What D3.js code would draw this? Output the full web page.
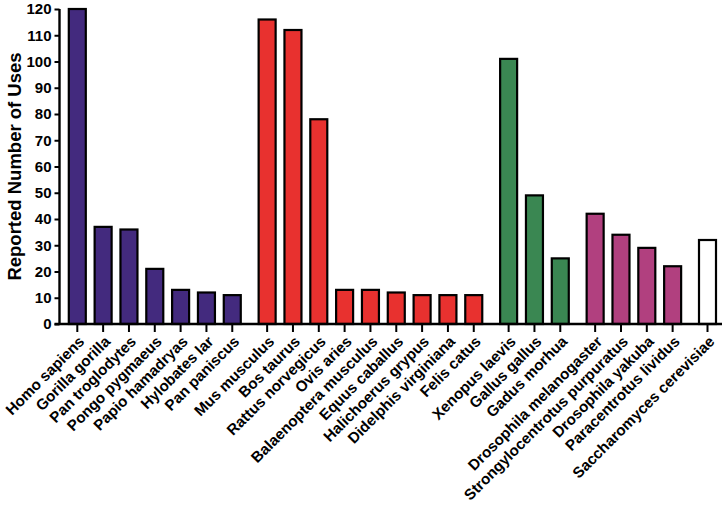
<!DOCTYPE html>
<html><head><meta charset="utf-8">
<script src="https://cdn.jsdelivr.net/npm/d3@7/dist/d3.min.js"></script>
<style>body{margin:0;background:#fff}svg{display:block}text{font-family:"Liberation Sans",Arial,sans-serif;font-weight:bold}</style>
</head><body><svg id="c" width="724" height="507"></svg>
<script>
const species = ["Homo sapiens","Gorilla gorilla","Pan troglodytes","Pongo pygmaeus","Papio hamadryas","Hylobates lar","Pan paniscus",
"Mus musculus","Bos taurus","Rattus norvegicus","Ovis aries","Balaenoptera musculus","Equus caballus","Halichoerus grypus","Didelphis virginiana","Felis catus",
"Xenopus laevis","Gallus gallus","Gadus morhua",
"Drosophila melanogaster","Strongylocentrotus purpuratus","Drosophila yakuba","Paracentrotus lividus",
"Saccharomyces cerevisiae"];
const uses = [120,37,36,21,13,12,11, 116,112,78,13,13,12,11,11,11, 101,49,25, 42,34,29,22, 32];
const groupOf = [0,0,0,0,0,0,0, 1,1,1,1,1,1,1,1,1, 2,2,2, 3,3,3,3, 4];
const groupColors = ["#432a7e","#e8312f","#3a8752","#b1407f","#ffffff"];
const yTicks = [0,10,20,30,40,50,60,70,80,90,100,110,120];

const svg = d3.select("#c");
const gapExtra = 0.35;
const slot = species.map((s,i)=> i + groupOf[i]*gapExtra);
const x = d3.scaleLinear().domain([0, slot[slot.length-1]]).range([77.3, 707.5]);
const y = d3.scaleLinear().domain([0,120]).range([324, 9]);
const x0 = 59.5, xEnd = 722;
const bw = 17;

// bars
svg.append("g").selectAll("rect").data(uses).join("rect")
  .attr("x",(d,i)=>x(slot[i])-bw/2)
  .attr("y",d=>y(d))
  .attr("width",bw)
  .attr("height",d=>y(0)-y(d))
  .attr("fill",(d,i)=>groupColors[groupOf[i]])
  .attr("stroke","#000").attr("stroke-width",2.2);

// y axis
const ya = svg.append("g").attr("transform",`translate(${x0},0)`)
  .call(d3.axisLeft(y).tickValues(yTicks).tickSize(5).tickPadding(3));
ya.select(".domain").attr("stroke","#000").attr("stroke-width",2.4).attr("d",`M0,${y(120)}V${y(0)}`);
ya.selectAll(".tick line").attr("stroke","#000").attr("stroke-width",2);
ya.selectAll(".tick text").attr("font-size",15).attr("fill","#000").style("font-family","'Liberation Sans',Arial,sans-serif").style("font-weight","bold");

// x axis line
svg.append("line").attr("x1",x0-5).attr("x2",xEnd).attr("y1",y(0)).attr("y2",y(0))
  .attr("stroke","#000").attr("stroke-width",2.4);
// x ticks
svg.append("g").selectAll("line").data(species).join("line")
  .attr("x1",(d,i)=>x(slot[i])).attr("x2",(d,i)=>x(slot[i]))
  .attr("y1",y(0)).attr("y2",y(0)+8).attr("stroke","#000").attr("stroke-width",2);
// x labels
svg.append("g").selectAll("text").data(species).join("text")
  .attr("transform",(d,i)=>`translate(${x(slot[i])+8},${y(0)+18.5}) rotate(-45)`)
  .attr("text-anchor","end").attr("font-size",15.2)
  .text(d=>d);

// y title
svg.append("text").attr("transform",`translate(21,${(y(0)+y(120))/2}) rotate(-90)`)
  .attr("text-anchor","middle").attr("font-size",18.5).text("Reported Number of Uses");
</script></body></html>
